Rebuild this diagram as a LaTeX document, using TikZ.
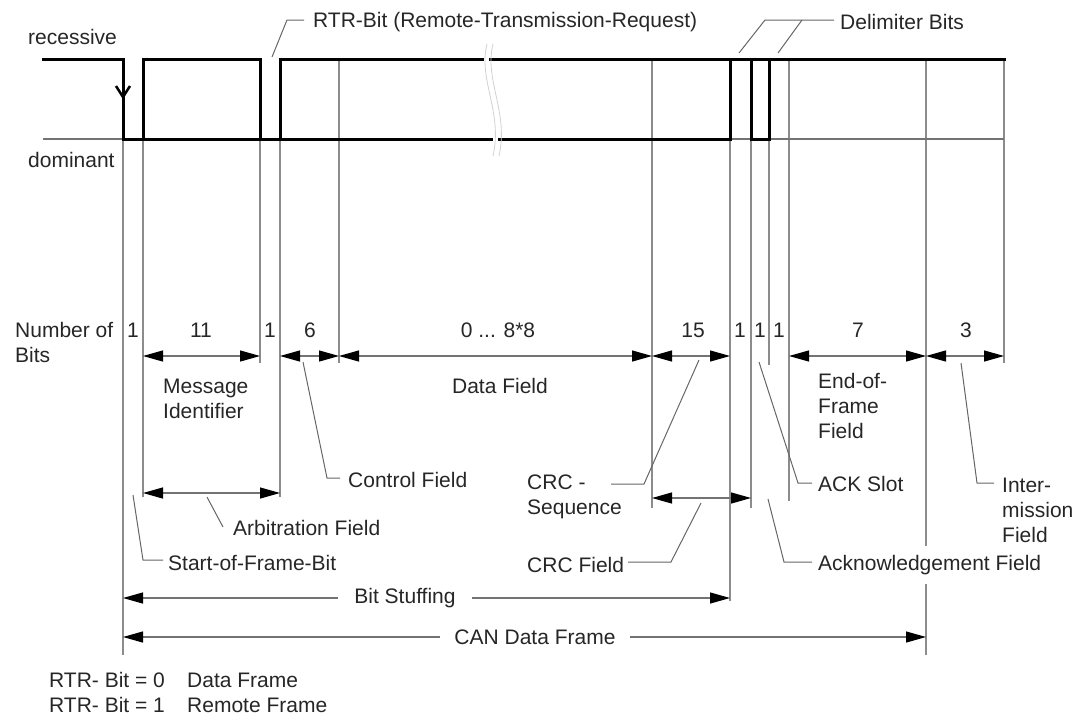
\documentclass[tikz,border=0pt]{standalone}
\usepackage{fontspec}
\setmainfont{Liberation Sans}
\usetikzlibrary{arrows.meta}
\begin{document}
\begin{tikzpicture}[x=1pt,y=-1pt,
  lbl/.style={font=\fontsize{21}{25}\selectfont, inner sep=0pt, align=left, text=black!85},
  sig/.style={line width=3pt, line join=miter, line cap=rect, black},
  gridline/.style={line width=1.6pt, draw=black!45},
  refline/.style={line width=1.2pt, draw=black!55},
  lead/.style={line width=1pt, draw=black!60},
  brk/.style={line width=0.8pt, draw=black!18},
  dim/.style={line width=1.2pt, draw=black!55,
     {Triangle[length=20pt,width=11pt,color=black]}-{Triangle[length=20pt,width=11pt,color=black]}},
]
\useasboundingbox (0,0) rectangle (1081,715);

% ---- grey grid lines (bit boundaries)
\draw[gridline] (123,139) -- (123,655);
\draw[gridline] (143,139) -- (143,497);
\draw[gridline] (260,139) -- (260,363);
\draw[gridline] (280,139) -- (280,497);
\draw[gridline] (339,59) -- (339,363);
\draw[gridline] (652,59) -- (652,508);
\draw[gridline] (730,139) -- (730,601);
\draw[gridline] (751,139) -- (751,508);
\draw[gridline] (769,139) -- (769,365);
\draw[gridline] (789,59) -- (789,501);
\draw[gridline] (926,59) -- (926,655);
\draw[gridline] (1004,59) -- (1004,363);

% dominant reference line
\draw[refline] (43,139) -- (123,139);
\draw[refline] (730,139) -- (1004,139);

% ---- signal
\draw[sig] (43,59) -| (123,139) -- (491,139);
\draw[sig] (143,139) |- (260,59) -- (260,139);
\draw[sig] (280,139) |- (482,59);
\draw[sig] (490,59) -- (1004,59);
\draw[sig] (499,139) -| (730,59);
\draw[sig] (751,59) rectangle (769,139);
\draw[line width=2.5pt] (116,86) -- (123,97) -- (130,86);

% break mark
\draw[brk] (487,44) .. controls (478,80) and (503,112) .. (493,156);
\draw[brk] (493,44) .. controls (484,80) and (509,112) .. (499,156);

% ---- texts
\node[lbl,anchor=west] (rec) at (28,37) {recessive};
\node[lbl,anchor=west] (dom) at (28,160) {dominant};
\node[lbl,anchor=west] (rtr) at (313,22) {RTR-Bit (Remote-Transmission-Request)};
\node[lbl,anchor=west] (del) at (840,22) {Delimiter Bits};
\node[lbl,anchor=west] (nob) at (15,342) {Number of\\Bits};

\node[lbl] (n1) at (133,330) {1};
\node[lbl] (n2) at (201,330) {11};
\node[lbl] (n3) at (270,330) {1};
\node[lbl] (n4) at (310,330) {6};
\node[lbl] (n5) at (498,330) {0 ... 8*8};
\node[lbl] (n6) at (693,330) {15};
\node[lbl] (n7) at (740,330) {1};
\node[lbl] (n8) at (760,330) {1};
\node[lbl] (n9) at (779,330) {1};
\node[lbl] (n10) at (858,330) {7};
\node[lbl] (n11) at (966,330) {3};

\node[lbl,anchor=west] (msg) at (163,399) {Message\\Identifier};
\node[lbl] (data) at (500,386) {Data Field};
\node[lbl,anchor=west] (eof) at (818,406) {End-of-\\Frame\\Field};
\node[lbl,anchor=west] (ctrl) at (348,480) {Control Field};
\node[lbl,anchor=west] (arb) at (233,528) {Arbitration Field};
\node[lbl,anchor=west] (sof) at (168,563) {Start-of-Frame-Bit};
\node[lbl,anchor=west] (crcs) at (527,497) {CRC -\\Sequence};
\node[lbl,anchor=west] (crcf) at (527,565) {CRC Field};
\node[lbl,anchor=west] (ack) at (818,484) {ACK Slot};
\node[lbl,anchor=west,fill=white,inner ysep=9pt] (ackf) at (818,565) {Acknowledgement Field};
\node[lbl,anchor=west] (ifs) at (1002,510) {Inter-\\mission\\Field};

% ---- dimension arrows
\draw[dim] (143,356) -- (260,356);
\draw[dim] (280,356) -- (339,356);
\draw[dim] (339,356) -- (652,356);
\draw[dim] (652,356) -- (730,356);
\draw[dim] (789,356) -- (926,356);
\draw[dim] (926,356) -- (1004,356);
\draw[dim] (143,493) -- (280,493);
\draw[dim] (652,498) -- (751,498);
\draw[dim] (123,598) -- (730,598);
\draw[dim] (123,637) -- (926,637);
\node[lbl,fill=white,inner xsep=16pt,inner ysep=4pt] (bs) at (405,598) {Bit Stuffing};
\node[lbl,fill=white,inner xsep=14pt,inner ysep=4pt] (can) at (535,637) {CAN Data Frame};

% ---- leader lines
\draw[lead] (272,57) -- (287,20) -- (304,20);
\draw[lead] (739,53) -- (765,20) -- (834,20);
\draw[lead] (778,53) -- (802,20);
\draw[lead] (303,362) -- (327,478) -- (340,478);
\draw[lead] (207,497) -- (223,527);
\draw[lead] (133,495) -- (143,560) -- (163,560);
\draw[lead] (699,360) -- (644,484) -- (611,484);
\draw[lead] (701,503) -- (671,562) -- (628,562);
\draw[lead] (759,362) -- (798,483) -- (812,483);
\draw[lead] (768,499) -- (784,562) -- (812,562);
\draw[lead] (961,363) -- (977,483) -- (994,483);

% ---- legend
\node[lbl,anchor=west] (l1) at (49,680) {RTR- Bit = 0};
\node[lbl,anchor=west] (l1b) at (187,680) {Data Frame};
\node[lbl,anchor=west] (l2) at (49,705) {RTR- Bit = 1};
\node[lbl,anchor=west] (l2b) at (187,705) {Remote Frame};
\end{tikzpicture}
\end{document}
